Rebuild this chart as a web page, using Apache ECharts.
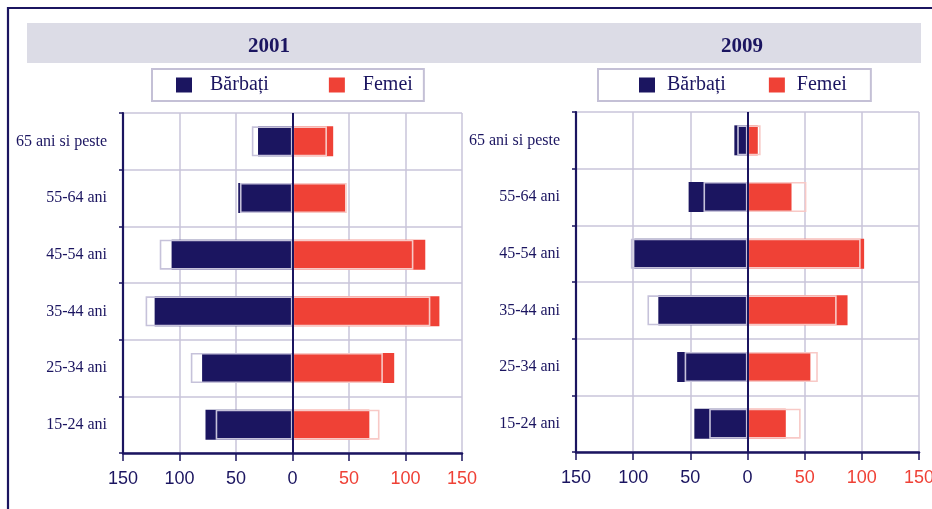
<!DOCTYPE html>
<html>
<head>
<meta charset="utf-8">
<script src="https://cdn.jsdelivr.net/npm/echarts@6/dist/echarts.min.js"></script>
<style>
html,body{margin:0;padding:0;background:#fff;}
#chart{width:932px;height:509px;}
</style>
</head>
<body>
<div id="chart"></div>
<script>
// ---- data ----
const categories = ['65 ani si peste', '55-64 ani', '45-54 ani', '35-44 ani', '25-34 ani', '15-24 ani'];
const years = ['2001', '2009'];
const men2001 = [30.5, 48, 107, 122, 80, 77];
const women2001 = [36, 46.5, 117.5, 130, 90, 68];
const men2009 = [11.5, 51.5, 99, 78, 61.5, 46.5];
const women2009 = [9, 38.5, 102, 87.5, 55, 33.5];
const legendNames = ['Bărbați', 'Femei'];
const xMin = -150, xMax = 150, xStep = 50;

// ---- styles ----
const NAVY = '#1b1560';
const RED = '#ef4136';
const GRIDC = '#c9c5da';
const SERIF = '"Liberation Serif", "DejaVu Serif", serif';
const SANS = '"Liberation Sans Narrow", "Liberation Sans", sans-serif';

const grids = [
  {left: 123, top: 113, width: 339, height: 340, outerBoundsMode: 'none', containLabel: false},
  {left: 576, top: 112, width: 343, height: 340, outerBoundsMode: 'none', containLabel: false}
];
const titleX = [269, 742];
const legends = [
  {left: 152, padding: [6, 11, 6, 24], textPad: 13, gap: 60},
  {left: 598, padding: [6, 24, 6, 41], textPad: 7, gap: 43}
];
const men = [men2001, men2009];
const women = [women2001, women2009];

const option = {
  animation: false,
  backgroundColor: '#fff',
  graphic: [
    {type: 'rect', z: -10, shape: {x: 27, y: 23, width: 894, height: 40}, style: {fill: '#dcdce6'}},
    {type: 'polyline', z: 10, shape: {points: [[8, 509], [8, 8], [932, 8]]}, style: {stroke: NAVY, lineWidth: 2.2, fill: null}}
  ],
  title: years.map((y, i) => ({
    text: y,
    left: titleX[i],
    top: 36,
    textAlign: 'center',
    padding: 0,
    textStyle: {fontFamily: SERIF, fontWeight: 'bold', fontSize: 21, color: NAVY}
  })),
  legend: legends.map(l => ({
    data: legendNames,
    left: l.left,
    top: 69,
    orient: 'horizontal',
    icon: 'rect',
    itemWidth: 16,
    itemHeight: 15,
    itemGap: l.gap,
    padding: l.padding,
    borderColor: '#c4c0d6',
    borderWidth: 2,
    selectedMode: false,
    textStyle: {fontFamily: SERIF, fontSize: 20, color: NAVY, padding: [0, 0, 0, l.textPad]}
  })),
  grid: grids,
  xAxis: grids.map((g, i) => ({
    type: 'value',
    gridIndex: i,
    min: xMin,
    max: xMax,
    interval: xStep,
    axisLine: {show: true, onZero: false, lineStyle: {color: NAVY, width: 2.5}},
    axisTick: {show: true, length: 8, lineStyle: {color: NAVY, width: 1.5}},
    axisLabel: {
      margin: 17,
      fontFamily: SANS,
      fontSize: 18,
      formatter: v => String(Math.abs(v)),
      color: v => (Number(v) > 0 ? RED : NAVY)
    },
    splitLine: {show: true, lineStyle: {color: GRIDC, width: 1.5}}
  })),
  yAxis: grids.map((g, i) => ({
    type: 'category',
    gridIndex: i,
    data: categories,
    inverse: true,
    axisLine: {show: true, onZero: false, lineStyle: {color: NAVY, width: 2.2}},
    axisTick: {show: true, length: 4, lineStyle: {color: NAVY, width: 1.5}},
    axisLabel: {margin: 16, fontFamily: SERIF, fontSize: 16, color: NAVY},
    splitLine: {show: true, lineStyle: {color: GRIDC, width: 1.5}}
  })),
  series: []
};

grids.forEach((g, i) => {
  const base = {type: 'bar', xAxisIndex: i, yAxisIndex: i, barWidth: 30, barGap: '-100%', silent: true};
  option.series.push(Object.assign({}, base, {
    name: legendNames[0], data: men[i].map(v => -v), itemStyle: {color: NAVY}
  }));
  option.series.push(Object.assign({}, base, {
    name: legendNames[1], data: women[i], itemStyle: {color: RED}
  }));
  option.series.push(Object.assign({}, base, {
    name: 'outline-m' + i, data: women[i].map(v => -v),
    itemStyle: {color: 'rgba(0,0,0,0)', borderColor: '#c6c2da', borderWidth: 1.6}
  }));
  option.series.push(Object.assign({}, base, {
    name: 'outline-f' + i, data: men[i],
    itemStyle: {color: 'rgba(0,0,0,0)', borderColor: '#f8c9c6', borderWidth: 1.6},
    markLine: {
      silent: true, symbol: 'none', label: {show: false},
      lineStyle: {color: NAVY, width: 2, type: 'solid'},
      data: [{xAxis: 0}]
    }
  }));
});

const chart = echarts.init(document.getElementById('chart'), null, {renderer: 'canvas'});
chart.setOption(option);
</script>
</body>
</html>
